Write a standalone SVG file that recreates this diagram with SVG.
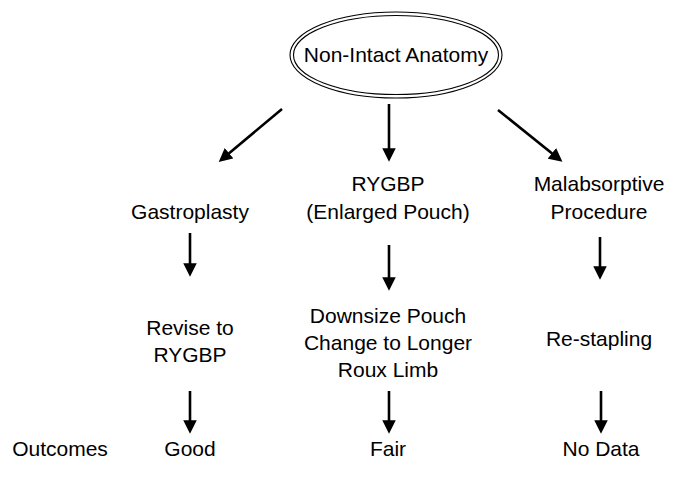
<svg xmlns="http://www.w3.org/2000/svg" width="681" height="483" viewBox="0 0 681 483">
  <style>
    text { font-family: "Liberation Sans", Arial, sans-serif; font-size: 21px; fill: #000; text-anchor: middle; }
    .edge { stroke: #000; stroke-width: 2.6; fill: none; marker-end: url(#head); }
    .ring { fill: none; stroke: #000; stroke-width: 1.1; }
  </style>
  <defs>
    <marker id="head" viewBox="0 0 10 10" refX="2" refY="5" markerWidth="5.2" markerHeight="5.2" orient="auto" markerUnits="strokeWidth">
      <path d="M0,0 L10,5 L0,10 Z" fill="#000"/>
    </marker>
  </defs>
  <rect width="681" height="483" fill="#fff"/>

  <!-- top node: double-ringed ellipse -->
  <g id="root">
    <ellipse class="ring" cx="396" cy="55" rx="106" ry="43"/>
    <ellipse class="ring" cx="396" cy="55" rx="102.5" ry="39.5"/>
    <text x="396" y="62">Non-Intact Anatomy</text>
  </g>

  <g id="gastroplasty"><text x="190" y="219">Gastroplasty</text></g>
  <g id="rygbp"><text x="388" y="191">RYGBP</text><text x="388" y="219">(Enlarged Pouch)</text></g>
  <g id="malabsorptive"><text x="599" y="191">Malabsorptive</text><text x="599" y="219">Procedure</text></g>

  <g id="revise"><text x="190" y="335">Revise to</text><text x="190" y="362">RYGBP</text></g>
  <g id="downsize"><text x="388" y="323">Downsize Pouch</text><text x="388" y="350">Change to Longer</text><text x="388" y="377">Roux Limb</text></g>
  <g id="restapling"><text x="599" y="346">Re-stapling</text></g>

  <g id="outcomes-label"><text x="60" y="456">Outcomes</text></g>
  <g id="good"><text x="190" y="456">Good</text></g>
  <g id="fair"><text x="388" y="456">Fair</text></g>
  <g id="nodata"><text x="601" y="456">No Data</text></g>

  <g id="connectors">
    <line class="edge" x1="282" y1="109" x2="227" y2="155"/>
    <line class="edge" x1="389" y1="104" x2="389" y2="151"/>
    <line class="edge" x1="498" y1="110" x2="554" y2="155"/>
    <line class="edge" x1="190" y1="233" x2="190" y2="266"/>
    <line class="edge" x1="389" y1="245" x2="389" y2="280"/>
    <line class="edge" x1="600" y1="237" x2="600" y2="269"/>
    <line class="edge" x1="190" y1="391" x2="190" y2="423"/>
    <line class="edge" x1="389" y1="391" x2="389" y2="423"/>
    <line class="edge" x1="601" y1="391" x2="601" y2="423"/>
  </g>
</svg>
